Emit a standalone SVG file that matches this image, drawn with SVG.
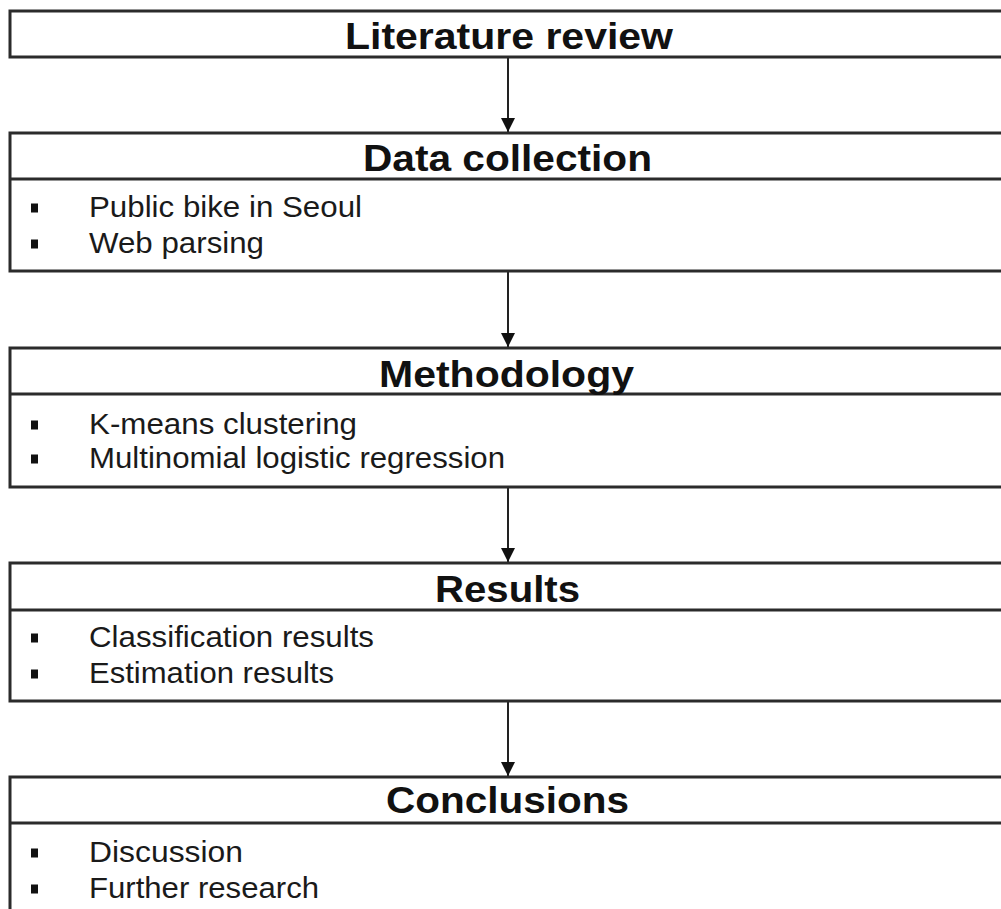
<svg xmlns="http://www.w3.org/2000/svg" width="1001" height="909" viewBox="0 0 1001 909">
<style>
.box{fill:#fff;stroke:#2b2b2b;stroke-width:3}
.div{stroke:#2b2b2b;stroke-width:3}
.hd{font-family:"Liberation Sans",Arial,sans-serif;font-weight:bold;font-size:36px;fill:#111}
.bd{font-family:"Liberation Sans",Arial,sans-serif;font-size:30px;fill:#1a1a1a}
.bul{fill:#111}
.conn{stroke:#222;stroke-width:2;fill:none}
</style>
<defs>
<marker id="ah" markerWidth="7" markerHeight="7" refX="7" refY="3.5" orient="auto" markerUnits="strokeWidth">
<path d="M0,0 L7,3.5 L0,7 Z" fill="#111"/>
</marker>
</defs>
<rect width="1001" height="909" fill="#fff"/>
<g id="connectors">
<line class="conn" x1="508" y1="57" x2="508" y2="132" marker-end="url(#ah)"/>
<line class="conn" x1="508" y1="271" x2="508" y2="347" marker-end="url(#ah)"/>
<line class="conn" x1="508" y1="487" x2="508" y2="562" marker-end="url(#ah)"/>
<line class="conn" x1="508" y1="701" x2="508" y2="776" marker-end="url(#ah)"/>
</g>
<g id="literature-review">
<rect class="box" x="10" y="11" width="1010" height="46"/>
<text class="hd" x="345" y="49" textLength="328" lengthAdjust="spacingAndGlyphs">Literature review</text>
</g>
<g id="data-collection">
<rect class="box" x="10" y="133" width="1010" height="138"/>
<line class="div" x1="10" y1="179" x2="1020" y2="179"/>
<text class="hd" x="363" y="171" textLength="289" lengthAdjust="spacingAndGlyphs">Data collection</text>
<rect class="bul" x="31" y="203.5" width="7" height="9"/>
<text class="bd" x="89" y="217" textLength="273" lengthAdjust="spacingAndGlyphs">Public bike in Seoul</text>
<rect class="bul" x="31" y="239.5" width="7" height="9"/>
<text class="bd" x="89" y="253" textLength="175" lengthAdjust="spacingAndGlyphs">Web parsing</text>
</g>
<g id="methodology">
<rect class="box" x="10" y="348" width="1010" height="139"/>
<line class="div" x1="10" y1="394" x2="1020" y2="394"/>
<text class="hd" x="379" y="387" textLength="255" lengthAdjust="spacingAndGlyphs">Methodology</text>
<rect class="bul" x="31" y="420.5" width="7" height="9"/>
<text class="bd" x="89" y="434" textLength="268" lengthAdjust="spacingAndGlyphs">K-means clustering</text>
<rect class="bul" x="31" y="454.5" width="7" height="9"/>
<text class="bd" x="89" y="468" textLength="416" lengthAdjust="spacingAndGlyphs">Multinomial logistic regression</text>
</g>
<g id="results">
<rect class="box" x="10" y="563" width="1010" height="138"/>
<line class="div" x1="10" y1="610" x2="1020" y2="610"/>
<text class="hd" x="435" y="602" textLength="145" lengthAdjust="spacingAndGlyphs">Results</text>
<rect class="bul" x="31" y="633.5" width="7" height="9"/>
<text class="bd" x="89" y="647" textLength="285" lengthAdjust="spacingAndGlyphs">Classification results</text>
<rect class="bul" x="31" y="669.5" width="7" height="9"/>
<text class="bd" x="89" y="683" textLength="245" lengthAdjust="spacingAndGlyphs">Estimation results</text>
</g>
<g id="conclusions">
<rect class="box" x="10" y="777" width="1010" height="160"/>
<line class="div" x1="10" y1="823" x2="1020" y2="823"/>
<text class="hd" x="386" y="813" textLength="243" lengthAdjust="spacingAndGlyphs">Conclusions</text>
<rect class="bul" x="31" y="848.5" width="7" height="9"/>
<text class="bd" x="89" y="862" textLength="154" lengthAdjust="spacingAndGlyphs">Discussion</text>
<rect class="bul" x="31" y="884.5" width="7" height="9"/>
<text class="bd" x="89" y="898" textLength="230" lengthAdjust="spacingAndGlyphs">Further research</text>
</g>
</svg>
